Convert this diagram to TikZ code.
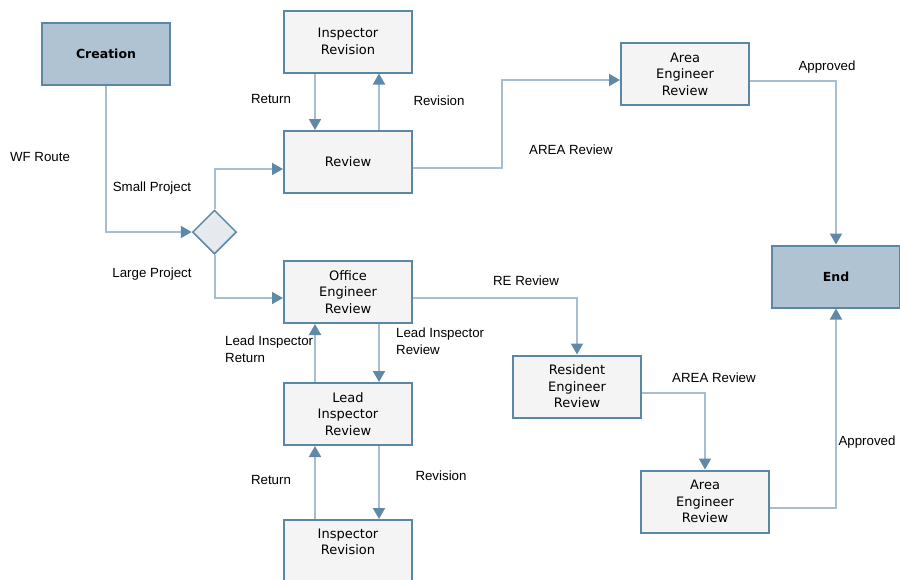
\documentclass[tikz,border=0pt]{standalone}
\usepackage{fontspec}
\setmainfont{DejaVu Sans}
\newfontfamily\lblfont{Liberation Sans}
\usetikzlibrary{arrows.meta,shapes.geometric}

\definecolor{boxline}{HTML}{5B87A6}
\definecolor{boxfill}{HTML}{F4F4F4}
\definecolor{termfill}{HTML}{B0C3D3}
\definecolor{decfill}{HTML}{E6EAEF}
\definecolor{flowline}{HTML}{A7BDD0}
\definecolor{tipcol}{HTML}{5F8AA7}

\tikzset{
	stagebox/.style={draw=boxline, fill=boxfill, line width=2pt, minimum width=128pt,
		minimum height=62pt, align=center, font=\fontsize{13}{16.5}\selectfont, inner sep=0pt},
	termbox/.style={stagebox, fill=termfill, font=\fontsize{12.5}{16}\selectfont\bfseries},
	decision/.style={diamond, draw=boxline, fill=decfill, line width=1.5pt,
		minimum width=44pt, minimum height=44pt, inner sep=0pt},
	flow/.style={draw=flowline, line width=2pt,
		-{Triangle[length=11pt, width=12pt, color=tipcol]}},
	lbl/.style={font=\lblfont\fontsize{13.3}{16.5}\selectfont, align=left, inner sep=0pt}
}

\begin{document}
\begin{tikzpicture}[x=1pt, y=-1pt]
	\useasboundingbox (0,0) rectangle (900,579);

	% boxes
	\node[termbox] (creation) at (106,53.5) {Creation};
	\node[stagebox] (insptop) at (348,41.5) {Inspector\\Revision};
	\node[stagebox] (review) at (348,162) {Review};
	\node[stagebox] (areatop) at (685,74) {Area\\Engineer\\Review};
	\node[termbox] (endbox) at (836,276.5) {End};
	\node[decision] (dec) at (214.5,232) {};
	\node[stagebox] (office) at (348,292) {Office\\Engineer\\Review};
	\node[stagebox] (lead) at (348,414) {Lead\\Inspector\\Review};
	\node[stagebox, minimum height=66pt] (inspbot) at (348,553) {Inspector\\Revision\\[5.5pt]};
	\node[stagebox] (resident) at (577,386.5) {Resident\\Engineer\\Review};
	\node[stagebox] (areabot) at (705,501.5) {Area\\Engineer\\Review};

	% connectors
	\draw[flow] (creation.south) |- (dec.west);
	\draw[flow] (dec.north) |- ([yshift=-7pt]review.west);
	\draw[flow] (dec.south) |- ([yshift=-6pt]office.west);
	\draw[flow] ([xshift=-33pt]insptop.south) -- ([xshift=-33pt]review.north);
	\draw[flow] ([xshift=31pt]review.north) -- ([xshift=31pt]insptop.south);
	\draw[flow] ([yshift=-6pt]review.east) -- ++(89,0) |- ([yshift=-6pt]areatop.west);
	\draw[flow] ([yshift=-7pt]areatop.east) -| (endbox.north);
	\draw[flow] ([yshift=-6.5pt]areabot.east) -| (endbox.south);
	\draw[flow] ([yshift=-6pt]office.east) -| (resident.north);
	\draw[flow] ([xshift=31pt]office.south) -- ([xshift=31pt]lead.north);
	\draw[flow] ([xshift=-33pt]lead.north) -- ([xshift=-33pt]office.south);
	\draw[flow] ([xshift=31pt]lead.south) -- ([xshift=31pt]inspbot.north);
	\draw[flow] ([xshift=-33pt]inspbot.north) -- ([xshift=-33pt]lead.south);
	\draw[flow] ([yshift=-6.5pt]resident.east) -| (areabot.north);

	% labels
	\node[lbl] (wfroute) at (40,157) {WF Route};
	\node[lbl] (small) at (152,188) {Small Project};
	\node[lbl] (large) at (152,274) {Large Project};
	\node[lbl] (retop) at (271,99) {Return};
	\node[lbl] (revtop) at (439,101) {Revision};
	\node[lbl] (areatxt) at (571,150) {AREA Review};
	\node[lbl] (apptop) at (827,67) {Approved};
	\node[lbl] (retxt) at (526,281) {RE Review};
	\node[lbl, anchor=north west] (leadret) at (225,336) {Lead Inspector\\Return};
	\node[lbl, anchor=north west] (leadrev) at (396,328) {Lead Inspector\\Review};
	\node[lbl] (areatxt2) at (714,378) {AREA Review};
	\node[lbl] (appbot) at (867,442) {Approved};
	\node[lbl] (retbot) at (271,480) {Return};
	\node[lbl] (revbot) at (441,476) {Revision};
\end{tikzpicture}
\end{document}
